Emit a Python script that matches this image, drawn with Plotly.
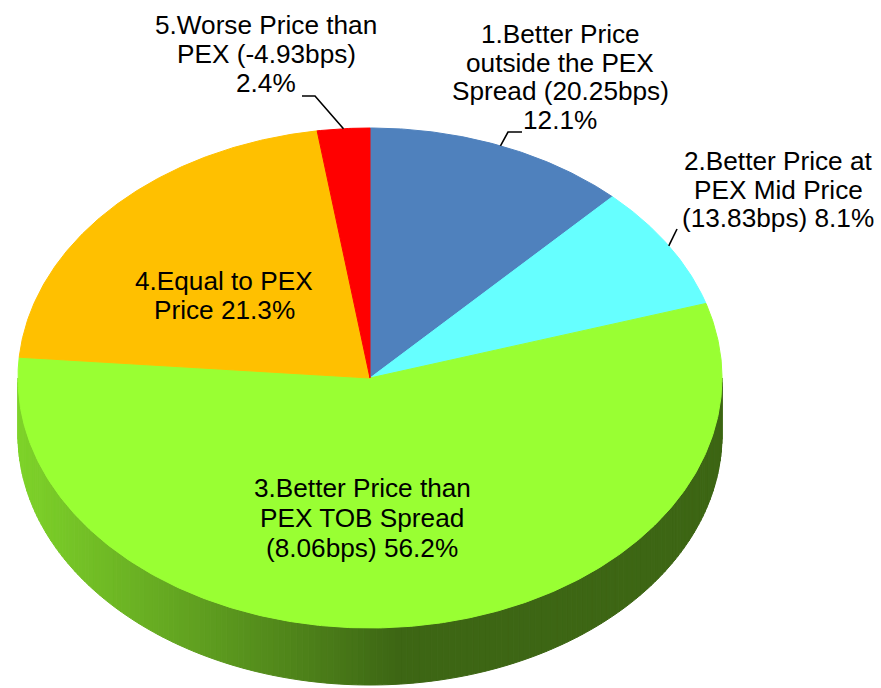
import numpy as np
import plotly.graph_objects as go

# ---------------- data ----------------
categories = [
    "1.Better Price outside the PEX Spread (20.25bps)",
    "2.Better Price at PEX Mid Price (13.83bps)",
    "3.Better Price than PEX TOB Spread (8.06bps)",
    "4.Equal to PEX Price",
    "5.Worse Price than PEX (-4.93bps)",
]
values = [12.1, 8.1, 56.2, 21.3, 2.4]
colors = ["#4F81BD", "#66FFFF", "#99FF33", "#FFC000", "#FF0000"]
label_lines = [
    ["1.Better Price", "outside the PEX", "Spread (20.25bps)", "12.1%"],
    ["2.Better Price at", "PEX Mid Price", "(13.83bps) 8.1%"],
    ["3.Better Price than", "PEX TOB Spread", "(8.06bps) 56.2%"],
    ["4.Equal to PEX", "Price 21.3%"],
    ["5.Worse Price than", "PEX (-4.93bps)", "2.4%"],
]

# ---------------- geometry / style ----------------
W, H = 881, 688
CX, CY, RX, RY, DEPTH = 370.0, 378.0, 352.0, 250.0, 57.0
FONT = "Liberation Sans, Arial, sans-serif"
FSIZE = 26.2

# label placement: (center x, first line y, line spacing)
label_pos = [
    (560, 34, 28.6),
    (778, 161, 28.5),
    (362, 488, 30),
    (224, 281, 29),
    (266, 25, 29),
]
# leader elbows (None = no leader)
leader_elbows = [
    [(508, 132), (522, 132)],
    [(677, 229)],
    None,
    None,
    [(315, 96), (302, 96)],
]


def pt(theta_deg, dy=0.0):
    t = np.radians(theta_deg)
    return CX + RX * np.sin(t), CY - RY * np.cos(t) + dy


def hex2rgb(h):
    h = h.lstrip("#")
    return tuple(int(h[i:i + 2], 16) for i in (0, 2, 4))


def shade(h, f):
    r, g, b = hex2rgb(h)
    return "rgb(%d,%d,%d)" % (min(255, r * f), min(255, g * f), min(255, b * f))


total = float(sum(values))
fracs = [v / total for v in values]
starts = np.concatenate([[0.0], np.cumsum(fracs)[:-1]]) * 360.0
ends = np.cumsum(fracs) * 360.0

fig = go.Figure()

# ---- side wall (front half, 90..270 deg) with horizontal gradient ----
for s, e, c in zip(starts, ends, colors):
    a0, a1 = max(s, 90.0), min(e, 270.0)
    if a1 <= a0:
        continue
    n = max(2, int((a1 - a0) / 1.0))
    edges = np.linspace(a0, a1, n + 1)
    for i in range(n):
        th = np.linspace(edges[i], edges[i + 1], 4)
        xt, yt = pt(th)
        xb, yb = pt(th[::-1], DEPTH)
        xs = np.concatenate([xt, xb, xt[:1]])
        ys = np.concatenate([yt, yb, yt[:1]])
        xm = float(np.mean(xt))
        tt = np.clip((xm - (CX - RX)) / (400.0 - (CX - RX)), 0, 1)
        f = 0.83 + (0.40 - 0.83) * tt
        col = shade(c, f)
        fig.add_trace(go.Scatter(x=xs, y=ys, mode="lines", fill="toself",
                                 fillcolor=col, line=dict(color=col, width=1),
                                 hoverinfo="skip", showlegend=False))

# ---- top face slices ----
for s, e, c, name in zip(starts, ends, colors, categories):
    th = np.linspace(s, e, max(3, int(e - s) * 2 + 2))
    xa, ya = pt(th)
    xs = np.concatenate([[CX], xa, [CX]])
    ys = np.concatenate([[CY], ya, [CY]])
    fig.add_trace(go.Scatter(x=xs, y=ys, mode="lines", fill="toself",
                             fillcolor=c, line=dict(color=c, width=1),
                             name=name, hoverinfo="name", showlegend=False))

# ---- leader lines (start at slice mid-edge computed from data) ----
for s, e, elb in zip(starts, ends, leader_elbows):
    if not elb:
        continue
    mx, my = pt((s + e) / 2.0)
    xs = [mx] + [p[0] for p in elb]
    ys = [my] + [p[1] for p in elb]
    fig.add_trace(go.Scatter(x=xs, y=ys, mode="lines",
                             line=dict(color="black", width=1.6),
                             hoverinfo="skip", showlegend=False))

# ---- labels ----
anns = []
for lines, (lx, ly, sp) in zip(label_lines, label_pos):
    for k, txt in enumerate(lines):
        anns.append(dict(x=lx, y=ly + k * sp, text=txt, showarrow=False,
                         xref="x", yref="y", xanchor="center", yanchor="middle",
                         font=dict(family=FONT, size=FSIZE, color="black")))

fig.update_layout(
    width=W, height=H,
    margin=dict(l=0, r=0, t=0, b=0),
    paper_bgcolor="white", plot_bgcolor="white",
    xaxis=dict(range=[0, W], visible=False, fixedrange=True),
    yaxis=dict(range=[H, 0], visible=False, fixedrange=True),
    annotations=anns,
    showlegend=False,
)

fig.write_html(
    "out.html",
    config={"displayModeBar": False},
    post_script="document.body.style.margin='0';document.body.style.overflow='hidden';",
)
